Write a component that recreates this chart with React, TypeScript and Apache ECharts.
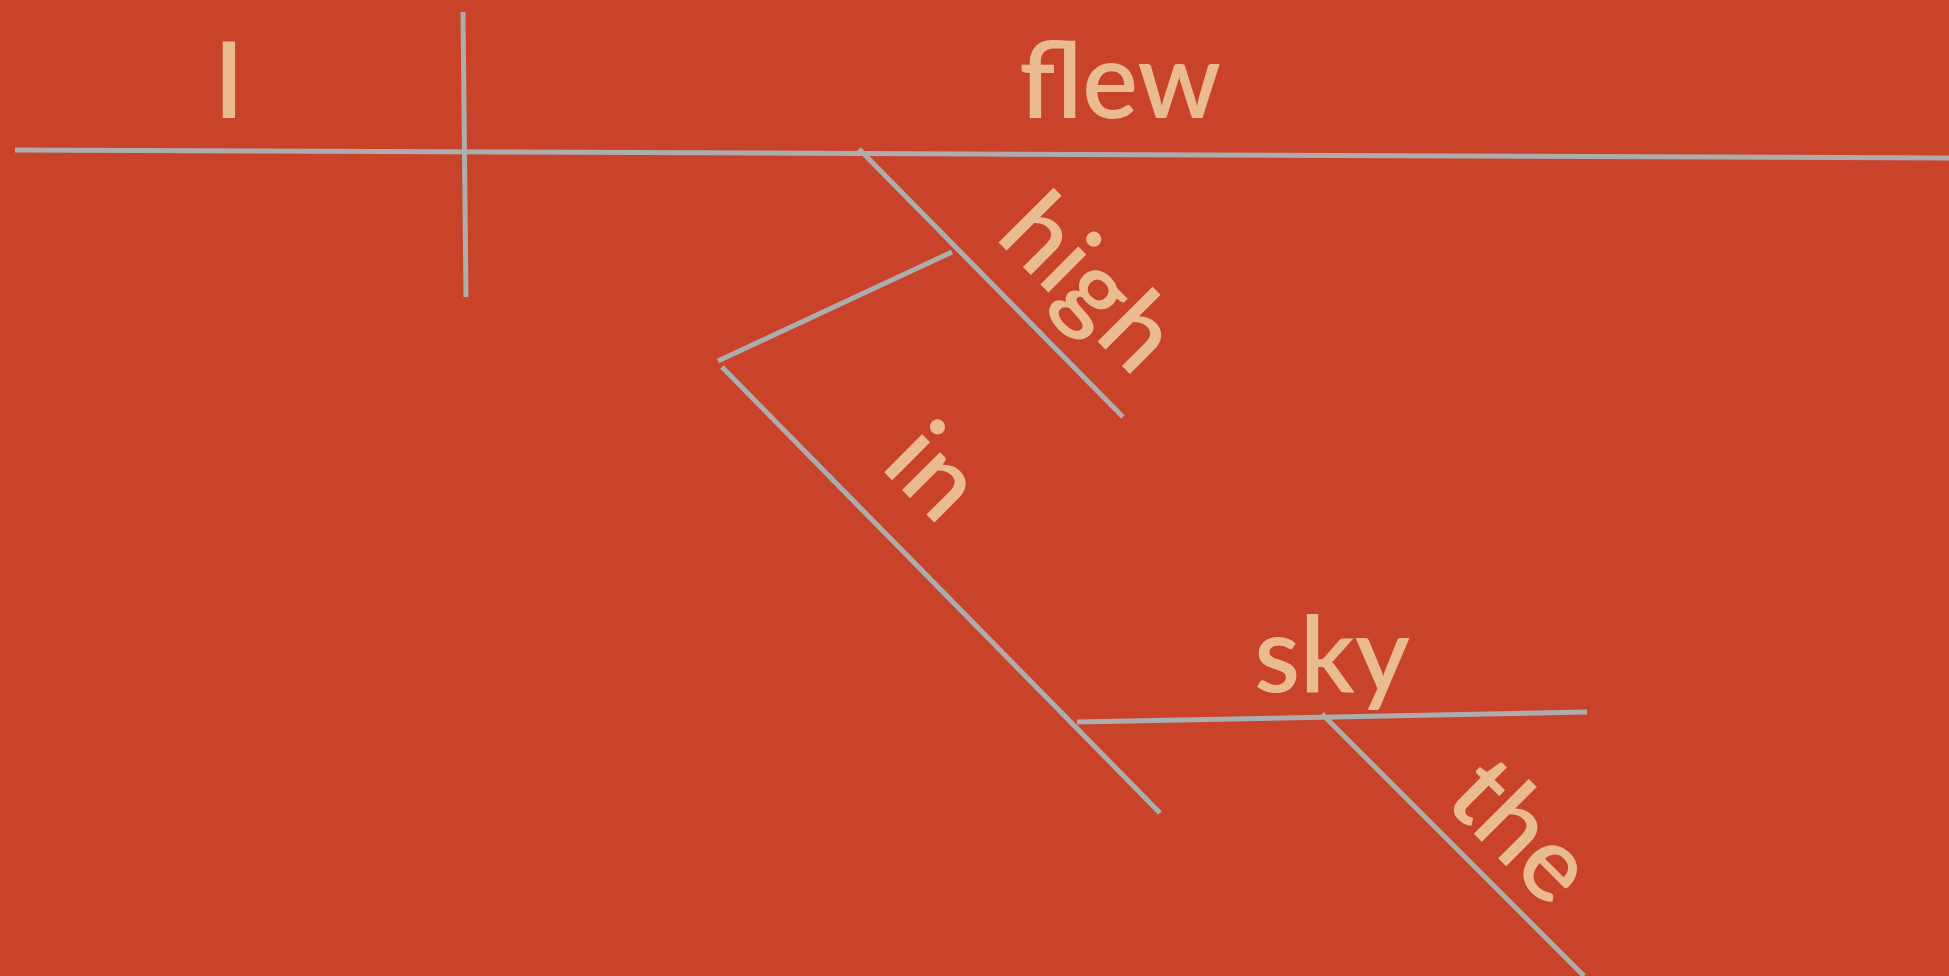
import React, { useEffect, useRef } from "react";
import * as echarts from "echarts";

// Diagram segments in page pixel units: [[x1, y1], [x2, y2]]
const subjectPredicateLine = [[15, 150], [1949, 158]];
const subjectDivider = [[463, 12], [466, 297]];
const highModifierLine = [[859, 149], [1123, 417]];
const prepositionConnector = [[952, 252], [718, 361]];
const prepositionLine = [[722, 367], [1160, 813]];
const objectLine = [[1077, 722], [1587, 712]];
const articleLine = [[1322, 714], [1584, 976]];

// Words of the sentence and where they sit
const words = ["I", "flew", "high", "in", "sky", "the"];
const wordX = [229, 1120, 1093, 938, 1332, 1525];
const wordY = [77, 77, 279, 468, 651, 827];
const wordAngle = [0, 0, -45, -45, 0, -45];

const segments = [
  subjectPredicateLine,
  subjectDivider,
  highModifierLine,
  prepositionConnector,
  prepositionLine,
  objectLine,
  articleLine,
];

const LINE_COLOR = "#ADADAD";
const TEXT_COLOR = "#F2D8AA";
const BG_COLOR = "#C9432B";

export default function App() {
  const ref = useRef<HTMLDivElement>(null);

  useEffect(() => {
    if (!ref.current) return;
    const chart = echarts.init(ref.current, undefined, { renderer: "svg" });
    const lineSeries = segments.map((seg, i) => ({
      type: "line",
      name: "seg" + i,
      data: seg,
      symbol: "none",
      silent: true,
      lineStyle: { color: LINE_COLOR, width: 5, cap: "butt" },
      z: 2,
    }));
    chart.setOption({
      animation: false,
      backgroundColor: BG_COLOR,
      grid: { left: 0, right: 0, top: 0, bottom: 0, containLabel: false },
      xAxis: { type: "value", min: 0, max: 1949, show: false },
      yAxis: { type: "value", min: 0, max: 976, inverse: true, show: false },
      series: [
        ...lineSeries,
        {
          type: "scatter",
          symbolSize: 0,
          silent: true,
          itemStyle: { color: "rgba(0,0,0,0)" },
          z: 3,
          data: words.map((w, i) => ({
            name: w,
            value: [wordX[i], wordY[i]],
            label: { rotate: wordAngle[i] },
          })),
          label: {
            show: true,
            position: "inside",
            formatter: "{b}",
            color: TEXT_COLOR,
            fontFamily: "Lato",
            fontSize: 105,
            fontWeight: 600,
          },
        },
      ],
    });
    return () => chart.dispose();
  }, []);

  return (
    <div
      ref={ref}
      style={{ position: "fixed", left: 0, top: 0, width: 1949, height: 976 }}
    />
  );
}
